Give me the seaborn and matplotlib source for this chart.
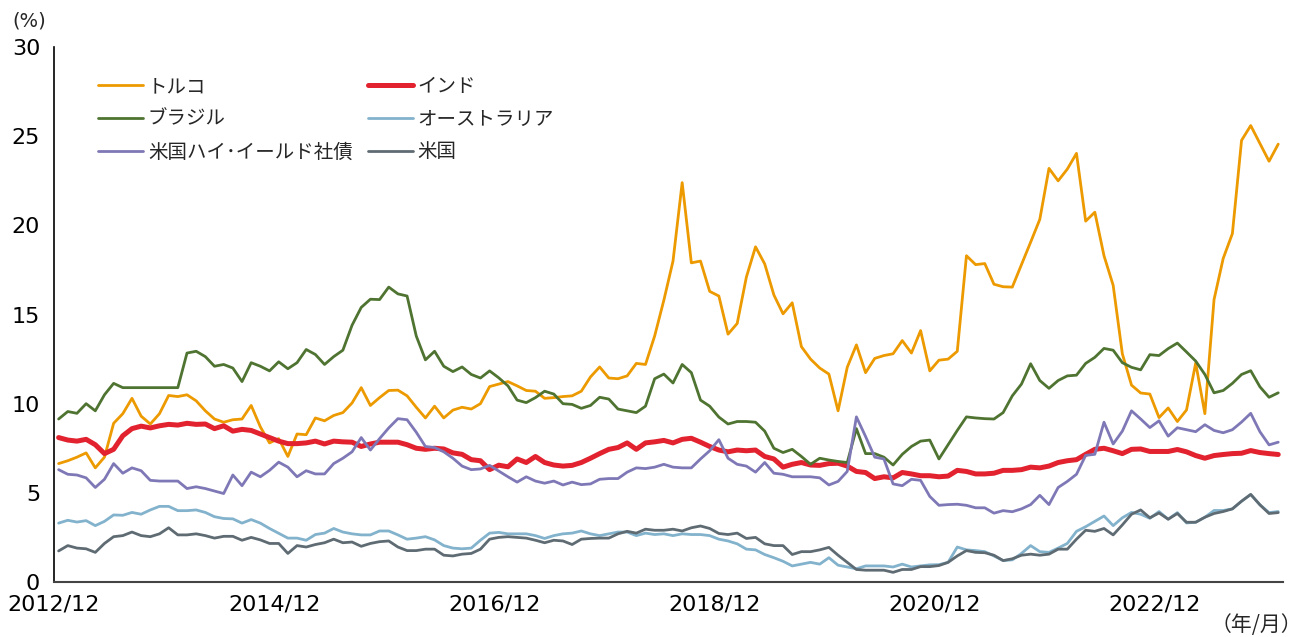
import numpy as np
import pandas as pd
import matplotlib.pyplot as plt
import seaborn as sns

sns.set_style("white")
plt.rcParams['font.family'] = ['DejaVu Sans', 'Noto Sans CJK JP']

# 各国の国債利回り・米国ハイイールド社債利回り (月次, %)
tick_labels = ["2012/12", "2014/12", "2016/12", "2018/12", "2020/12", "2022/12"]
series_names = ["トルコ", "インド", "ブラジル", "オーストラリア", "米国ハイ･イールド社債", "米国"]

turkey = [6.64, 6.8, 7.0, 7.24, 6.4, 7.0, 8.9, 9.44, 10.3, 9.3, 8.86, 9.44, 10.46, 10.4, 10.5, 10.16, 9.6, 9.14, 8.96, 9.1, 9.14, 9.9, 8.7, 7.8,
          8.04, 7.04, 8.3, 8.26, 9.2, 9.04, 9.34, 9.5, 10.04, 10.9, 9.9, 10.34, 10.74, 10.76, 10.44, 9.8, 9.2, 9.86, 9.2, 9.64, 9.8, 9.7, 10.0, 10.96,
          11.1, 11.24, 11.0, 10.74, 10.7, 10.3, 10.34, 10.4, 10.44, 10.7, 11.5, 12.06, 11.44, 11.4, 11.56, 12.26, 12.2, 13.8, 15.8, 18.0, 22.4, 17.9, 18.0, 16.3,
          16.04, 13.9, 14.5, 17.1, 18.8, 17.84, 16.1, 15.04, 15.66, 13.2, 12.5, 12.0, 11.66, 9.6, 12.04, 13.3, 11.74, 12.54, 12.7, 12.8, 13.54, 12.84, 14.1, 11.84,
          12.44, 12.5, 12.94, 18.3, 17.8, 17.86, 16.7, 16.56, 16.54, 17.8, 19.06, 20.34, 23.2, 22.5, 23.16, 24.04, 20.24, 20.74, 18.3, 16.64, 12.8, 11.04, 10.6, 10.54,
          9.22, 9.76, 9.0, 9.65, 12.28, 9.44, 15.84, 18.15, 19.54, 24.77, 25.6, 24.6, 23.6, 24.56]

india = [8.1, 7.96, 7.9, 8.0, 7.7, 7.2, 7.44, 8.2, 8.6, 8.74, 8.64, 8.76, 8.84, 8.8, 8.9, 8.84, 8.86, 8.6, 8.76, 8.46, 8.56, 8.5, 8.3, 8.1,
         7.9, 7.76, 7.76, 7.8, 7.9, 7.74, 7.9, 7.86, 7.84, 7.6, 7.74, 7.84, 7.84, 7.84, 7.7, 7.5, 7.44, 7.5, 7.46, 7.24, 7.16, 6.86, 6.8, 6.3,
         6.55, 6.46, 6.9, 6.7, 7.04, 6.7, 6.56, 6.5, 6.54, 6.7, 6.94, 7.2, 7.44, 7.54, 7.8, 7.44, 7.8, 7.86, 7.94, 7.8, 8.0, 8.06, 7.84, 7.6,
         7.4, 7.3, 7.4, 7.36, 7.4, 7.04, 6.9, 6.44, 6.6, 6.7, 6.56, 6.54, 6.64, 6.66, 6.5, 6.2, 6.14, 5.8, 5.9, 5.84, 6.14, 6.06, 5.96, 5.96,
         5.9, 5.94, 6.26, 6.2, 6.06, 6.06, 6.1, 6.26, 6.26, 6.3, 6.44, 6.4, 6.5, 6.7, 6.8, 6.86, 7.16, 7.44, 7.5, 7.36, 7.2, 7.44, 7.46, 7.32,
         7.32, 7.32, 7.43, 7.3, 7.09, 6.94, 7.09, 7.15, 7.2, 7.22, 7.37, 7.26, 7.2, 7.15]

brazil = [9.14, 9.56, 9.46, 10.0, 9.6, 10.5, 11.14, 10.9, 10.9, 10.9, 10.9, 10.9, 10.9, 10.9, 12.84, 12.94, 12.64, 12.1, 12.2, 12.0, 11.24, 12.3, 12.1, 11.84,
          12.35, 11.96, 12.3, 13.04, 12.76, 12.2, 12.64, 13.0, 14.4, 15.4, 15.86, 15.84, 16.54, 16.16, 16.04, 13.8, 12.46, 12.94, 12.1, 11.8, 12.06, 11.64, 11.44, 11.84,
          11.45, 11.0, 10.2, 10.06, 10.34, 10.7, 10.54, 10.0, 9.96, 9.74, 9.9, 10.36, 10.26, 9.7, 9.6, 9.5, 9.86, 11.4, 11.66, 11.16, 12.2, 11.74, 10.2, 9.86,
          9.25, 8.86, 9.0, 9.0, 8.96, 8.46, 7.5, 7.26, 7.44, 7.04, 6.6, 6.94, 6.84, 6.76, 6.7, 8.6, 7.2, 7.2, 7.0, 6.56, 7.16, 7.6, 7.9, 7.96,
          6.9, 7.7, 8.5, 9.26, 9.2, 9.16, 9.14, 9.5, 10.44, 11.1, 12.24, 11.3, 10.86, 11.3, 11.56, 11.6, 12.26, 12.6, 13.1, 13.0, 12.3, 12.04, 11.9, 12.75,
          12.7, 13.09, 13.4, 12.9, 12.39, 11.64, 10.61, 10.74, 11.14, 11.64, 11.85, 10.95, 10.36, 10.61]

australia = [3.3, 3.46, 3.36, 3.44, 3.16, 3.4, 3.76, 3.74, 3.9, 3.8, 4.04, 4.24, 4.24, 4.0, 4.0, 4.04, 3.9, 3.66, 3.56, 3.54, 3.3, 3.5, 3.3, 3.0,
             2.73, 2.46, 2.46, 2.34, 2.66, 2.74, 3.0, 2.8, 2.7, 2.64, 2.64, 2.86, 2.86, 2.64, 2.4, 2.46, 2.54, 2.36, 2.04, 1.9, 1.86, 1.9, 2.34, 2.74,
             2.78, 2.7, 2.7, 2.7, 2.6, 2.44, 2.6, 2.7, 2.74, 2.86, 2.7, 2.6, 2.7, 2.8, 2.8, 2.6, 2.74, 2.66, 2.7, 2.6, 2.7, 2.66, 2.66, 2.6,
             2.4, 2.3, 2.14, 1.84, 1.8, 1.54, 1.36, 1.16, 0.9, 1.0, 1.1, 1.0, 1.36, 0.94, 0.84, 0.74, 0.9, 0.9, 0.9, 0.84, 1.0, 0.84, 0.9, 0.96,
             0.97, 1.1, 1.96, 1.8, 1.76, 1.7, 1.46, 1.2, 1.24, 1.6, 2.04, 1.7, 1.66, 1.9, 2.16, 2.84, 3.1, 3.4, 3.7, 3.16, 3.6, 3.9, 3.8, 3.57,
             3.95, 3.52, 3.89, 3.31, 3.35, 3.63, 4.01, 4.01, 4.1, 4.53, 4.91, 4.33, 3.89, 3.95]

us_high_yield = [6.3, 6.04, 6.0, 5.84, 5.3, 5.76, 6.64, 6.1, 6.4, 6.24, 5.7, 5.66, 5.66, 5.66, 5.24, 5.34, 5.24, 5.1, 4.96, 6.0, 5.4, 6.16, 5.9, 6.26,
                 6.72, 6.44, 5.9, 6.24, 6.06, 6.06, 6.64, 6.94, 7.3, 8.1, 7.4, 8.04, 8.64, 9.16, 9.1, 8.4, 7.6, 7.54, 7.3, 6.94, 6.5, 6.3, 6.34, 6.54,
                 6.22, 5.9, 5.6, 5.9, 5.66, 5.54, 5.66, 5.44, 5.6, 5.46, 5.5, 5.76, 5.8, 5.8, 6.16, 6.4, 6.36, 6.44, 6.6, 6.44, 6.4, 6.4, 6.9, 7.36,
                 7.98, 6.94, 6.6, 6.5, 6.16, 6.7, 6.1, 6.04, 5.9, 5.9, 5.9, 5.84, 5.44, 5.64, 6.2, 9.26, 8.16, 7.0, 6.9, 5.5, 5.4, 5.76, 5.7, 4.8,
                 4.3, 4.34, 4.36, 4.3, 4.16, 4.16, 3.86, 4.0, 3.94, 4.1, 4.34, 4.86, 4.34, 5.3, 5.64, 6.04, 7.1, 7.16, 8.96, 7.74, 8.46, 9.6, 9.14, 8.66,
                 9.04, 8.18, 8.65, 8.54, 8.43, 8.82, 8.5, 8.37, 8.54, 8.97, 9.46, 8.43, 7.69, 7.84]

us = [1.74, 2.04, 1.9, 1.86, 1.66, 2.16, 2.54, 2.6, 2.8, 2.6, 2.54, 2.7, 3.04, 2.64, 2.64, 2.7, 2.6, 2.46, 2.56, 2.56, 2.34, 2.5, 2.36, 2.16,
      2.16, 1.6, 2.04, 1.96, 2.1, 2.2, 2.4, 2.2, 2.24, 2.0, 2.16, 2.26, 2.3, 1.96, 1.76, 1.76, 1.84, 1.84, 1.5, 1.46, 1.56, 1.6, 1.84, 2.4,
      2.5, 2.54, 2.5, 2.46, 2.34, 2.2, 2.34, 2.3, 2.1, 2.4, 2.44, 2.46, 2.46, 2.7, 2.84, 2.74, 2.96, 2.9, 2.9, 2.96, 2.86, 3.04, 3.14, 3.0,
      2.72, 2.66, 2.74, 2.44, 2.5, 2.14, 2.04, 2.04, 1.54, 1.7, 1.7, 1.8, 1.94, 1.5, 1.1, 0.7, 0.66, 0.66, 0.66, 0.54, 0.7, 0.7, 0.86, 0.86,
      0.92, 1.1, 1.46, 1.76, 1.66, 1.64, 1.5, 1.2, 1.3, 1.5, 1.56, 1.5, 1.56, 1.84, 1.84, 2.4, 2.9, 2.84, 3.0, 2.64, 3.2, 3.8, 4.04, 3.6,
      3.87, 3.52, 3.84, 3.35, 3.35, 3.63, 3.84, 3.95, 4.1, 4.53, 4.91, 4.33, 3.84, 3.89]

colors = ["#EC9A00", "#E2232F", "#4F7431", "#82B2CC", "#7E78B6", "#5F6B73"]
widths = [2.0, 3.6, 2.0, 2.0, 2.0, 2.0]

# 月の位置 (2012/12 = 0, 各点は月の中央)
months = np.arange(len(turkey)) + 0.5
all_series = [turkey, india, brazil, australia, us_high_yield, us]

fig, ax = plt.subplots(figsize=(13.05, 6.37), dpi=100)
fig.subplots_adjust(left=0.0414, right=0.983, bottom=0.0864, top=0.926)

for name, vals, c, w in zip(series_names, all_series, colors, widths):
    sns.lineplot(x=months, y=vals, color=c, linewidth=w, label=name, ax=ax)

ax.set_xlim(0, 134)
ax.set_ylim(0, 30)
ax.set_yticks(range(0, 31, 5))
ax.set_xticks(range(0, 121, 24))
ax.set_xticklabels(tick_labels)
ax.set_xlabel("")
ax.set_ylabel("")
ax.tick_params(axis='both', direction='in', length=6, width=1, labelsize=16, colors='black')
ax.tick_params(axis='y', pad=10)
ax.tick_params(axis='x', pad=9)

sns.despine(ax=ax)
ax.spines['left'].set_color('black')
ax.spines['left'].set_linewidth(1.2)
ax.spines['bottom'].set_color('#444444')
ax.spines['bottom'].set_linewidth(1.5)

# 凡例 (列方向に並べ替え)
handles, labels = ax.get_legend_handles_labels()
order = [0, 2, 4, 1, 3, 5]
ax.legend([handles[i] for i in order], [labels[i] for i in order],
          ncol=2, loc='upper left', bbox_to_anchor=(0.036, 0.946),
          frameon=False, borderaxespad=0, borderpad=0,
          handlelength=2.3, handletextpad=0.25, columnspacing=0.8,
          labelspacing=0.6, prop={'family': 'Noto Sans CJK JP', 'size': 14})

fig.text(12 / 1305, 1 - 21 / 637, "(%)", fontsize=14, va='center', ha='left')
fig.text(1302 / 1305, 1 - 625 / 637, "（年/月）", fontsize=15,
         va='center', ha='right', family='Noto Sans CJK JP')

plt.savefig("out.png", dpi=100)
plt.close()
